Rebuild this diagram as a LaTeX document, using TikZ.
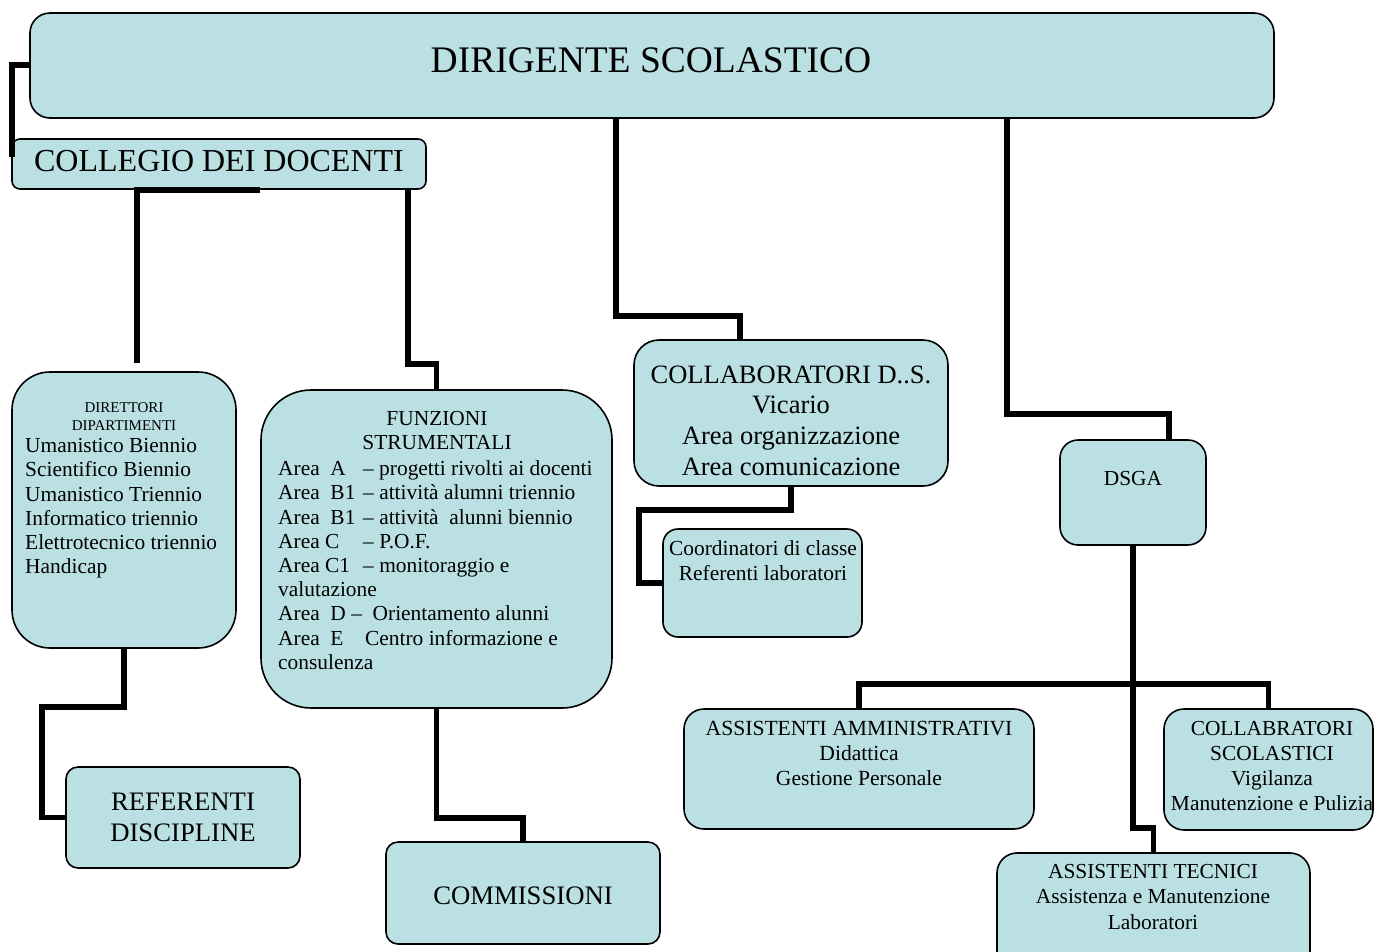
\documentclass[tikz,border=0pt]{standalone}
\usepackage{fontspec}
\setmainfont{Liberation Serif}
\usetikzlibrary{calc}
\definecolor{boxfill}{RGB}{187,224,227}
\newcommand\tbx[2]{\begin{tabular}[t]{@{}#1@{}}#2\end{tabular}}
\newcommand\arlbl[1]{\makebox[85pt][l]{#1}}
\begin{document}
\begin{tikzpicture}[x=1pt,y=-1pt,
  box/.style={draw=black,line width=1.6pt,fill=boxfill,rounded corners=#1,anchor=north west,inner sep=0pt,outer sep=0pt},
  conn/.style={line width=5.5pt},
  txt/.style={inner sep=0pt,anchor=base,font=\fontsize{21.4}{24.2}\selectfont},
]
\clip (0,0) rectangle (1375,951);
\fill[white] (0,0) rectangle (1375,951);

% boxes
\node[box=20,minimum width=1244pt,minimum height=105pt] (ds) at (30,13) {};
\node[box=8,minimum width=414pt,minimum height=50pt] (cd) at (12,139) {};
\node[box=38,minimum width=224pt,minimum height=276pt] (dir) at (12,372) {};
\node[box=50,minimum width=351pt,minimum height=318pt] (fun) at (261,390) {};
\node[box=25,minimum width=314pt,minimum height=146pt] (col) at (634,340) {};
\node[box=15,minimum width=199pt,minimum height=108pt] (coo) at (663,529) {};
\node[box=18,minimum width=146pt,minimum height=105pt] (dsga) at (1060,440) {};
\node[box=12,minimum width=234pt,minimum height=101pt] (ref) at (66,767) {};
\node[box=12,minimum width=274pt,minimum height=102pt] (com) at (386,842) {};
\node[box=20,minimum width=350pt,minimum height=120pt] (aa) at (684,709) {};
\node[box=20,minimum width=209pt,minimum height=121pt] (cs) at (1164,709) {};
\node[box=20,minimum width=313pt,minimum height=120pt] (at) at (997,853) {};

% texts
\node[txt,font=\fontsize{37.5}{40}\selectfont] (dst) at (651,72) {DIRIGENTE SCOLASTICO};
\node[txt,font=\fontsize{32}{36}\selectfont] (cdt) at (219,171) {COLLEGIO DEI DOCENTI};
\node[txt,font=\fontsize{15}{18}\selectfont] (dirh) at (124,412.3) {\tbx{c}{DIRETTORI\\DIPARTIMENTI}};
\node[txt,anchor=base west] (dirl) at (25,452.7) {\tbx{l}{Umanistico Biennio\\Scientifico Biennio\\Umanistico Triennio\\Informatico triennio\\Elettrotecnico triennio\\Handicap}};
\node[txt] (funh) at (437,425.7) {\tbx{c}{FUNZIONI\\STRUMENTALI}};
\node[txt,anchor=base west] (funl) at (278,475.7) {\tbx{l}{%
\arlbl{Area~~A}– progetti rivolti ai docenti\\
\arlbl{Area~~B1}– attività alumni triennio\\
\arlbl{Area~~B1}– attività~~alunni biennio\\
\arlbl{Area C}– P.O.F.\\
\arlbl{Area C1}– monitoraggio e\\
valutazione\\
Area~~D –~~Orientamento alunni\\
\makebox[87pt][l]{Area~~E}Centro informazione e\\
consulenza}};
\node[txt,font=\fontsize{26.5}{30.6}\selectfont] (colt) at (791,383.3) {\tbx{c}{COLLABORATORI D..S.\\Vicario\\Area organizzazione\\Area comunicazione}};
\node[txt,font=\fontsize{21.4}{25}\selectfont] (coot) at (763,555) {\tbx{c}{Coordinatori di classe\\Referenti laboratori}};
\node[txt] (dsgat) at (1133,485) {DSGA};
\node[txt,font=\fontsize{26.7}{31}\selectfont] (reft) at (183,810) {\tbx{c}{REFERENTI\\DISCIPLINE}};
\node[txt,font=\fontsize{26.7}{31}\selectfont] (comt) at (523,904) {COMMISSIONI};
\node[txt,font=\fontsize{21.6}{25}\selectfont] (aat) at (859,735) {\tbx{c}{ASSISTENTI AMMINISTRATIVI\\Didattica\\Gestione Personale}};
\node[txt,font=\fontsize{21.4}{25}\selectfont] (cst) at (1272,735) {\tbx{c}{COLLABRATORI\\SCOLASTICI\\Vigilanza\\Manutenzione e Pulizia}};
\node[txt,font=\fontsize{21.4}{25.5}\selectfont] (att) at (1153,878) {\tbx{c}{ASSISTENTI TECNICI\\Assistenza e Manutenzione\\Laboratori}};

% connectors
\draw[conn] ($(ds.north west)+(0,52)$) -| ($(cd.north west)+(0,18)$);
\draw[conn] ($(cd.south west)+(248,1)$) -- ($(cd.south west)+(125,1)$) -- ($(dir.north west)+(125,-9)$);
\draw[conn] ($(cd.south west)+(396,0)$) |- ($(fun.north)+(0,-26)$) -- (fun.north);
\draw[conn] ($(ds.south west)+(586,0)$) |- ($(col.north west)+(106,-24)$) -- ($(col.north west)+(106,0)$);
\draw[conn] ($(ds.south west)+(977,0)$) |- ($(dsga.north west)+(109,-26)$) -- ($(dsga.north west)+(109,0)$);
\draw[conn] (dir.south) -- ++(0,59) -| ($(ref.west)+(-24,0)$) -- (ref.west);
\draw[conn] (fun.south) |- ($(com.north)+(0,-24)$) -- (com.north);
\draw[conn] (col.south) -- ++(0,24) -| ($(coo.west)+(-24,0)$) -- (coo.west);
\draw[conn] (aa.north) -- ++(0,-25) -| (cs.north);
\draw[conn] (dsga.south) |- ($(at.north)+(0,-25)$) -- (at.north);
\end{tikzpicture}
\end{document}
